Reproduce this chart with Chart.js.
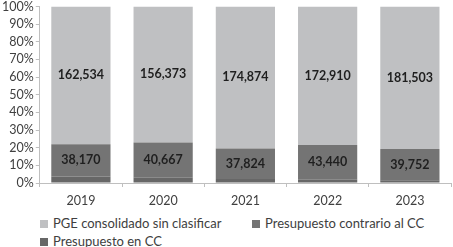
<!DOCTYPE html>
<html>
<head>
<meta charset="utf-8">
<script src="https://cdn.jsdelivr.net/npm/chart.js@4"></script>
<style>
  html, body { margin: 0; padding: 0; background: #fff; overflow: hidden; }
  #wrap { position: relative; width: 453px; height: 247px; font-family: Lato, sans-serif; overflow: hidden; }
  #chart-box { position: absolute; left: 0; top: -3px; width: 453px; height: 217px; }
  #legend { position: absolute; left: 40px; top: 215px; width: 413px; font-size: 13px; color: #404040; }
  .item { position: absolute; white-space: nowrap; }
  .item span.box { display: inline-block; width: 8px; height: 8px; margin-right: 5px; vertical-align: 0px; }
</style>
</head>
<body>
<div id="wrap">
  <div id="chart-box"><canvas id="budget-chart"></canvas></div>
  <div id="legend"></div>
</div>
<script>
  const years = ["2019", "2020", "2021", "2022", "2023"];
  // valores absolutos (millones)
  const enCC = [7700, 6000, 4800, 4200, 3400];
  const contrarioCC = [38170, 40667, 37824, 43440, 39752];
  const sinClasificar = [162534, 156373, 174874, 172910, 181503];
  const yTicks = [0, 10, 20, 30, 40, 50, 60, 70, 80, 90, 100];

  const series = [
    { label: "Presupuesto en CC", values: enCC, color: "#676767", showValue: false },
    { label: "Presupuesto contrario al CC", values: contrarioCC, color: "#747474", showValue: true },
    { label: "PGE consolidado sin clasificar", values: sinClasificar, color: "#bfc0c2", showValue: true }
  ];

  const totals = years.map((y, i) => series.reduce((s, d) => s + d.values[i], 0));

  const valueLabels = {
    id: "valueLabels",
    afterDatasetsDraw(chart) {
      const ctx = chart.ctx;
      ctx.save();
      ctx.font = "bold 12.5px Lato, sans-serif";
      ctx.fillStyle = "#1f1f1f";
      ctx.textAlign = "center";
      ctx.textBaseline = "middle";
      chart.data.datasets.forEach((ds, di) => {
        if (!series[di].showValue) return;
        chart.getDatasetMeta(di).data.forEach((bar, i) => {
          const mid = (bar.y + bar.base) / 2;
          ctx.fillText(series[di].values[i].toLocaleString("en-US"), bar.x, mid);
        });
      });
      ctx.restore();
    }
  };

  const chart = new Chart(document.getElementById("budget-chart"), {
    type: "bar",
    data: {
      labels: years,
      datasets: series.map(s => ({
        label: s.label,
        data: s.values.map((v, i) => v / totals[i] * 100),
        backgroundColor: s.color,
        borderWidth: 0,
        categoryPercentage: 0.72,
        barPercentage: 1
      }))
    },
    options: {
      responsive: true,
      maintainAspectRatio: false,
      animation: false,
      layout: { padding: { top: -3, right: 2, left: 0, bottom: 0 } },
      plugins: {
        legend: { display: false },
        tooltip: { enabled: false }
      },
      scales: {
        x: {
          stacked: true,
          grid: { drawOnChartArea: false, drawTicks: true, tickLength: 4, color: "#bfbfbf" },
          border: { color: "#bfbfbf" },
          ticks: { color: "#404040", font: { family: "Lato", size: 12.5 }, padding: 6 }
        },
        y: {
          stacked: true,
          min: 0,
          max: 100,
          afterBuildTicks: axis => { axis.ticks = yTicks.map(v => ({ value: v })); },
          grid: { drawOnChartArea: false, drawTicks: true, tickLength: 4, color: "#bfbfbf" },
          border: { color: "#bfbfbf" },
          ticks: {
            autoSkip: false,
            color: "#404040",
            font: { family: "Lato", size: 12.5 },
            padding: 2,
            callback: v => v + "%"
          }
        }
      }
    },
    plugins: [valueLabels]
  });

  // leyenda en dos filas como en el original
  const legendEl = document.getElementById("legend");
  const legendPos = [[0, 0], [212, 0], [0, 18]];
  chart.data.datasets.slice().reverse().forEach((ds, k) => {
    const div = document.createElement("div");
    div.className = "item";
    div.style.left = legendPos[k][0] + "px";
    div.style.top = legendPos[k][1] + "px";
    div.innerHTML = '<span class="box" style="background:' + ds.backgroundColor + '"></span>' + ds.label;
    legendEl.appendChild(div);
  });
</script>
</body>
</html>
